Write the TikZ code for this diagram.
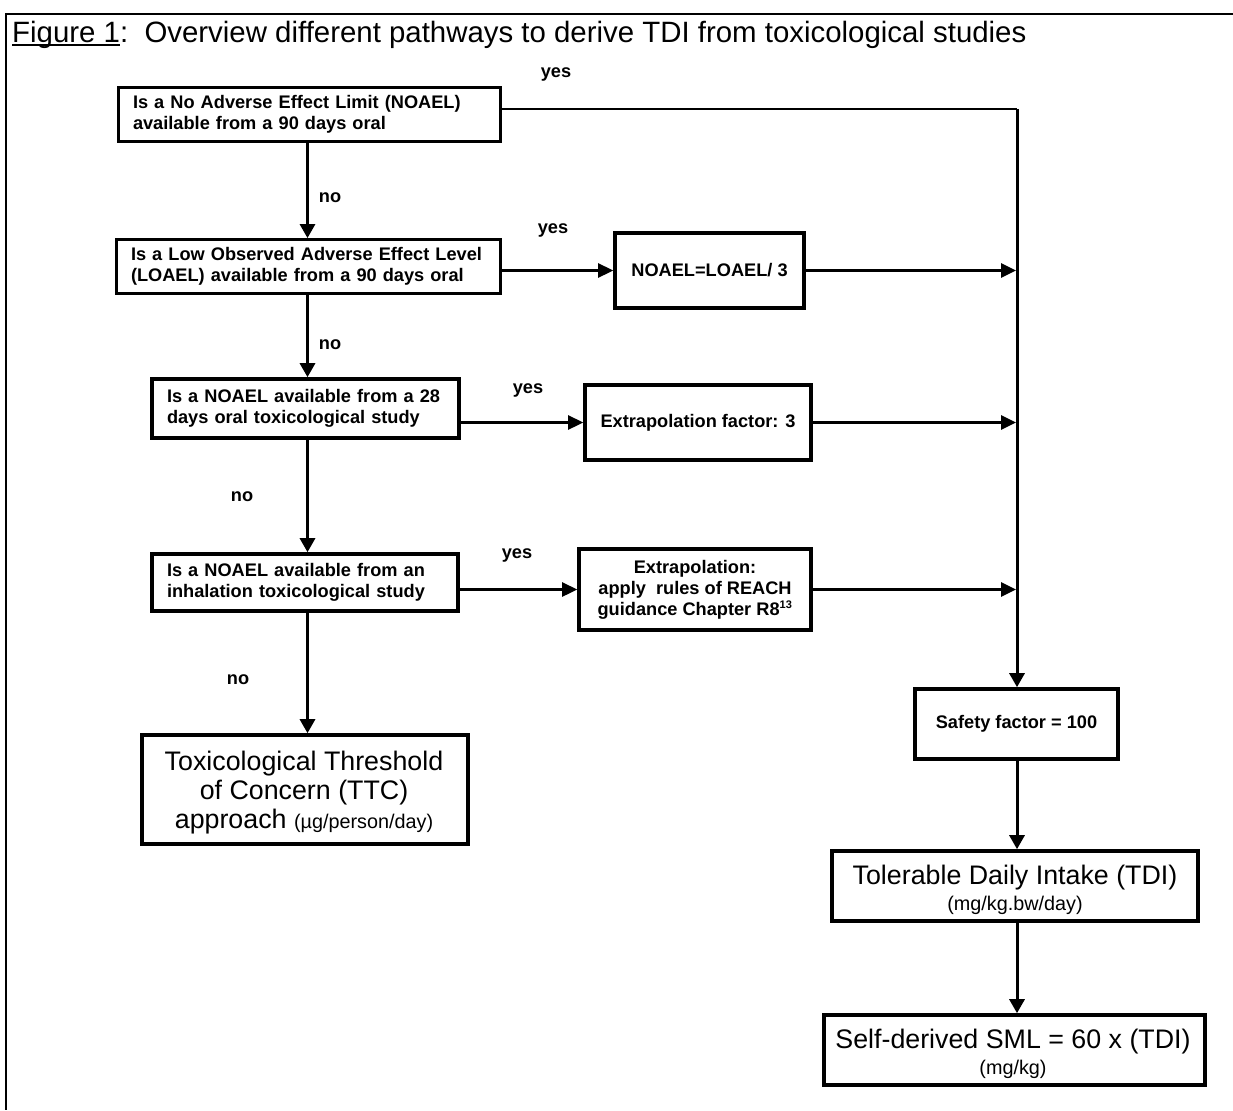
\documentclass[tikz,border=0pt]{standalone}
\usepackage{fontspec}
\setmainfont{Liberation Sans}
\usetikzlibrary{arrows.meta}
\newcommand\smalltxt{\fontsize{19.8pt}{22pt}\selectfont}
\newcommand\figul[1]{{\setbox0\hbox{#1}\rlap{\rule[-3.2pt]{\wd0}{1.8pt}}\box0}}
\begin{document}
\begin{tikzpicture}[x=1pt,y=-1pt,
  bx/.style={draw, line width=3.6pt, inner sep=0pt,
     font=\fontsize{18.2pt}{21pt}\selectfont\bfseries},
  bigbx/.style={draw, line width=3.6pt, inner sep=0pt},
  bigtxt/.style={inner sep=0pt, align=center, font=\fontsize{26.8pt}{29pt}\selectfont},
  arr/.style={line width=3pt, -{Triangle[length=14pt,width=15pt]}},
  harr/.style={line width=2.6pt, -{Triangle[length=15pt,width=14pt]}},
  lbl/.style={inner sep=0pt, font=\fontsize{18.2pt}{21pt}\selectfont\bfseries}
]
\useasboundingbox (0,0) rectangle (1233,1110);
% frame
\draw[line width=2.2pt] (1233,14) -- (6,14) -- (6,1110);
% title
\node[anchor=base west, inner sep=0pt, font=\fontsize{29.4pt}{32pt}\selectfont] (title) at (12,43)
  {\figul{Figure 1}:\ \ Overview different pathways to derive TDI from toxicological studies};

% left column questions
\node[bx, line width=2.8pt, minimum width=382pt, minimum height=54pt, text width=353pt, align=left] (q1) at (309.5,114.5)
  {\mbox{Is a No Adverse Effect Limit (NOAEL)}\\\mbox{available from a 90 days oral}};
\node[bx, line width=2.8pt, minimum width=384pt, minimum height=54pt, text width=355pt, align=left] (q2) at (308.5,266.5)
  {\mbox{Is a Low Observed Adverse Effect Level}\\\mbox{(LOAEL) available from a 90 days oral}};
\node[bx, minimum width=307pt, minimum height=59pt, text width=277pt, align=left] (q3) at (305.5,408.5)
  {\mbox{Is a NOAEL available from a 28}\\\mbox{days oral toxicological study}};
\node[bx, minimum width=306pt, minimum height=57pt, text width=276pt, align=left] (q4) at (305,582.5)
  {\mbox{Is a NOAEL available from an}\\\mbox{inhalation toxicological study}};
\node[bigbx, minimum width=326pt, minimum height=109pt] (ttc) at (305,789.5) {};
\node[bigtxt] (ttct) at (304,793)
  {Toxicological Threshold\\of Concern (TTC)\\approach {\smalltxt (µg/person/day)}};

% middle column
\node[bx, minimum width=189pt, minimum height=75pt, align=center] (r1) at (709.5,270.5) {NOAEL=LOAEL/ 3};
\node[bx, minimum width=226pt, minimum height=75pt, align=center] (r2) at (698,422.5) {Extrapolation factor: 3};
\node[bx, minimum width=232pt, minimum height=81pt, align=center] (r3) at (695,589.5)
  {Extrapolation:\\apply\ \ rules of REACH\\guidance Chapter R8\textsuperscript{\fontsize{11pt}{12pt}\selectfont 13}};

% right column
\node[bx, minimum width=203pt, minimum height=70pt, align=center] (saf) at (1016.5,724) {Safety factor = 100};
\node[bigbx, minimum width=366pt, minimum height=70pt] (tdi) at (1015,886) {};
\node[bigtxt] (tdit) at (1015,890)
  {Tolerable Daily Intake (TDI)\\[-3pt]{\smalltxt (mg/kg.bw/day)}};
\node[bigbx, minimum width=381pt, minimum height=70pt] (sml) at (1014.5,1050) {};
\node[bigtxt] (smlt) at (1013,1054)
  {Self-derived SML = 60 x (TDI)\\[-3pt]{\smalltxt (mg/kg)}};

% helper coordinates
\coordinate (vx) at (307.5,0);
\coordinate (j1) at (1017,109);
\coordinate (rx) at (1016,0);

% vertical "no" arrows
\draw[arr] (q1.south -| vx) -- (q2.north -| vx);
\draw[arr] (q2.south -| vx) -- (q3.north -| vx);
\draw[arr] (q3.south -| vx) -- (q4.north -| vx);
\draw[arr] (q4.south -| vx) -- (ttc.north -| vx);

% "yes" arrows
\draw[line width=2.8pt] (q1.east |- j1) -- (j1);
\draw[arr] (j1) -- (saf.north -| j1);
\draw[harr] (q2.east |- r1.west) -- (r1.west);
\draw[harr] (q3.east |- r2.west) -- (r2.west);
\draw[harr] (q4.east |- r3.west) -- (r3.west);
\draw[harr] (r1.east) -- (r1.east -| rx);
\draw[harr] (r2.east) -- (r2.east -| rx);
\draw[harr] (r3.east) -- (r3.east -| rx);

% right column arrows
\draw[arr] (saf.south -| j1) -- (tdi.north -| j1);
\draw[arr] (tdi.south -| j1) -- (sml.north -| j1);

% labels
\node[lbl] (y1) at (556,74) {yes};
\node[lbl] (y2) at (553,230) {yes};
\node[lbl] (y3) at (528,390) {yes};
\node[lbl] (y4) at (517,555) {yes};
\node[lbl] (n1) at (330,198) {no};
\node[lbl] (n2) at (330,345) {no};
\node[lbl] (n3) at (242,497) {no};
\node[lbl] (n4) at (238,680) {no};
\end{tikzpicture}
\end{document}
